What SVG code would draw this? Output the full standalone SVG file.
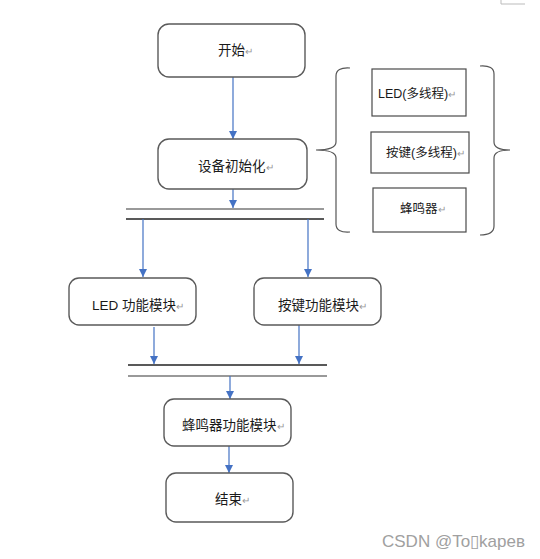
<svg xmlns="http://www.w3.org/2000/svg" width="540" height="559" viewBox="0 0 540 559">
<defs>
<marker id="ah" viewBox="0 0 10 10" refX="10" refY="5" markerWidth="8" markerHeight="8" markerUnits="userSpaceOnUse" orient="auto">
<path d="M0,0 L10,5 L0,10 z" fill="#4472C4"/>
</marker>
</defs>
<style>
.rb{fill:#fff;stroke:#5a5a5a;stroke-width:1.4}
.sb{fill:#fff;stroke:#4a4a4a;stroke-width:1.2}
.t{font-family:"Liberation Sans","Noto Sans CJK SC",sans-serif;font-size:13.5px;fill:#1a1a1a}
.ts{font-family:"Liberation Sans","Noto Sans CJK SC",sans-serif;font-size:12.5px;fill:#1a1a1a}
.pm{fill:#999;font-size:10px}
.ar{stroke:#4472C4;stroke-width:1.2;fill:none;marker-end:url(#ah)}
.bar1{stroke:#777;stroke-width:1.3}
.bar2{stroke:#222;stroke-width:1.3}
.br{fill:none;stroke:#555;stroke-width:1.2}
</style>
<rect width="540" height="559" fill="#fff"/>
<path d="M501,0 V4 H525" fill="none" stroke="#bbb" stroke-width="1"/>

<g id="connectors">
<line class="ar" x1="233" y1="77" x2="233" y2="139"/>
<line class="ar" x1="233" y1="189" x2="233" y2="208"/>
<line class="bar1" x1="126" y1="209" x2="324" y2="209"/>
<line class="bar2" x1="126" y1="219" x2="324" y2="219"/>
<line class="ar" x1="143" y1="219" x2="143" y2="277"/>
<line class="ar" x1="308" y1="219" x2="308" y2="277"/>
<line class="ar" x1="154" y1="327" x2="154" y2="364"/>
<line class="ar" x1="299" y1="325" x2="299" y2="364"/>
<line class="bar2" x1="128" y1="365" x2="327" y2="365"/>
<line class="bar1" x1="128" y1="376" x2="327" y2="376"/>
<line class="ar" x1="230" y1="376" x2="230" y2="399"/>
<line class="ar" x1="229" y1="446" x2="229" y2="473"/>
</g>

<g id="start">
<rect class="rb" x="158" y="24" width="147" height="53" rx="11"/>
<text class="t" x="218" y="55">开始<tspan class="pm">↵</tspan></text>
</g>
<g id="init">
<rect class="rb" x="158" y="139" width="149" height="50" rx="11"/>
<text class="t" x="198" y="171">设备初始化<tspan class="pm">↵</tspan></text>
</g>

<g id="braces">
<path class="br" d="M350,68 Q336,67 336,76 V142 Q336,150 316,150 Q336,150 336,158 V224 Q336,233 350,232"/>
<path class="br" d="M480,66 Q494,65 494,74 V142 Q494,150 510,150 Q494,150 494,158 V226 Q494,235 480,235"/>
</g>
<g id="led-thread">
<rect class="sb" x="372" y="69" width="94" height="47"/>
<text class="ts" x="378" y="98">LED(多线程)<tspan class="pm">↵</tspan></text>
</g>
<g id="key-thread">
<rect class="sb" x="371" y="132" width="98" height="41"/>
<text class="ts" x="386" y="157">按键(多线程)<tspan class="pm">↵</tspan></text>
</g>
<g id="buzzer">
<rect class="sb" x="373" y="188" width="93" height="44"/>
<text class="ts" x="400" y="213">蜂鸣器<tspan class="pm">↵</tspan></text>
</g>

<g id="led-module">
<rect class="rb" x="69" y="278" width="127" height="47" rx="10"/>
<text class="t" x="92" y="310">LED 功能模块<tspan class="pm">↵</tspan></text>
</g>
<g id="key-module">
<rect class="rb" x="254" y="278" width="127" height="47" rx="10"/>
<text class="t" x="278" y="310">按键功能模块<tspan class="pm">↵</tspan></text>
</g>
<g id="buzzer-module">
<rect class="rb" x="164" y="399" width="127" height="47" rx="10"/>
<text class="t" x="182" y="430">蜂鸣器功能模块<tspan class="pm">↵</tspan></text>
</g>
<g id="end">
<rect class="rb" x="166" y="473" width="127" height="49" rx="10"/>
<text class="t" x="215" y="504">结束<tspan class="pm">↵</tspan></text>
</g>

<text x="382" y="547" font-family="Liberation Sans, sans-serif" font-size="17" fill="#a0a0a0">CSDN @To▯kapeв</text>
</svg>
